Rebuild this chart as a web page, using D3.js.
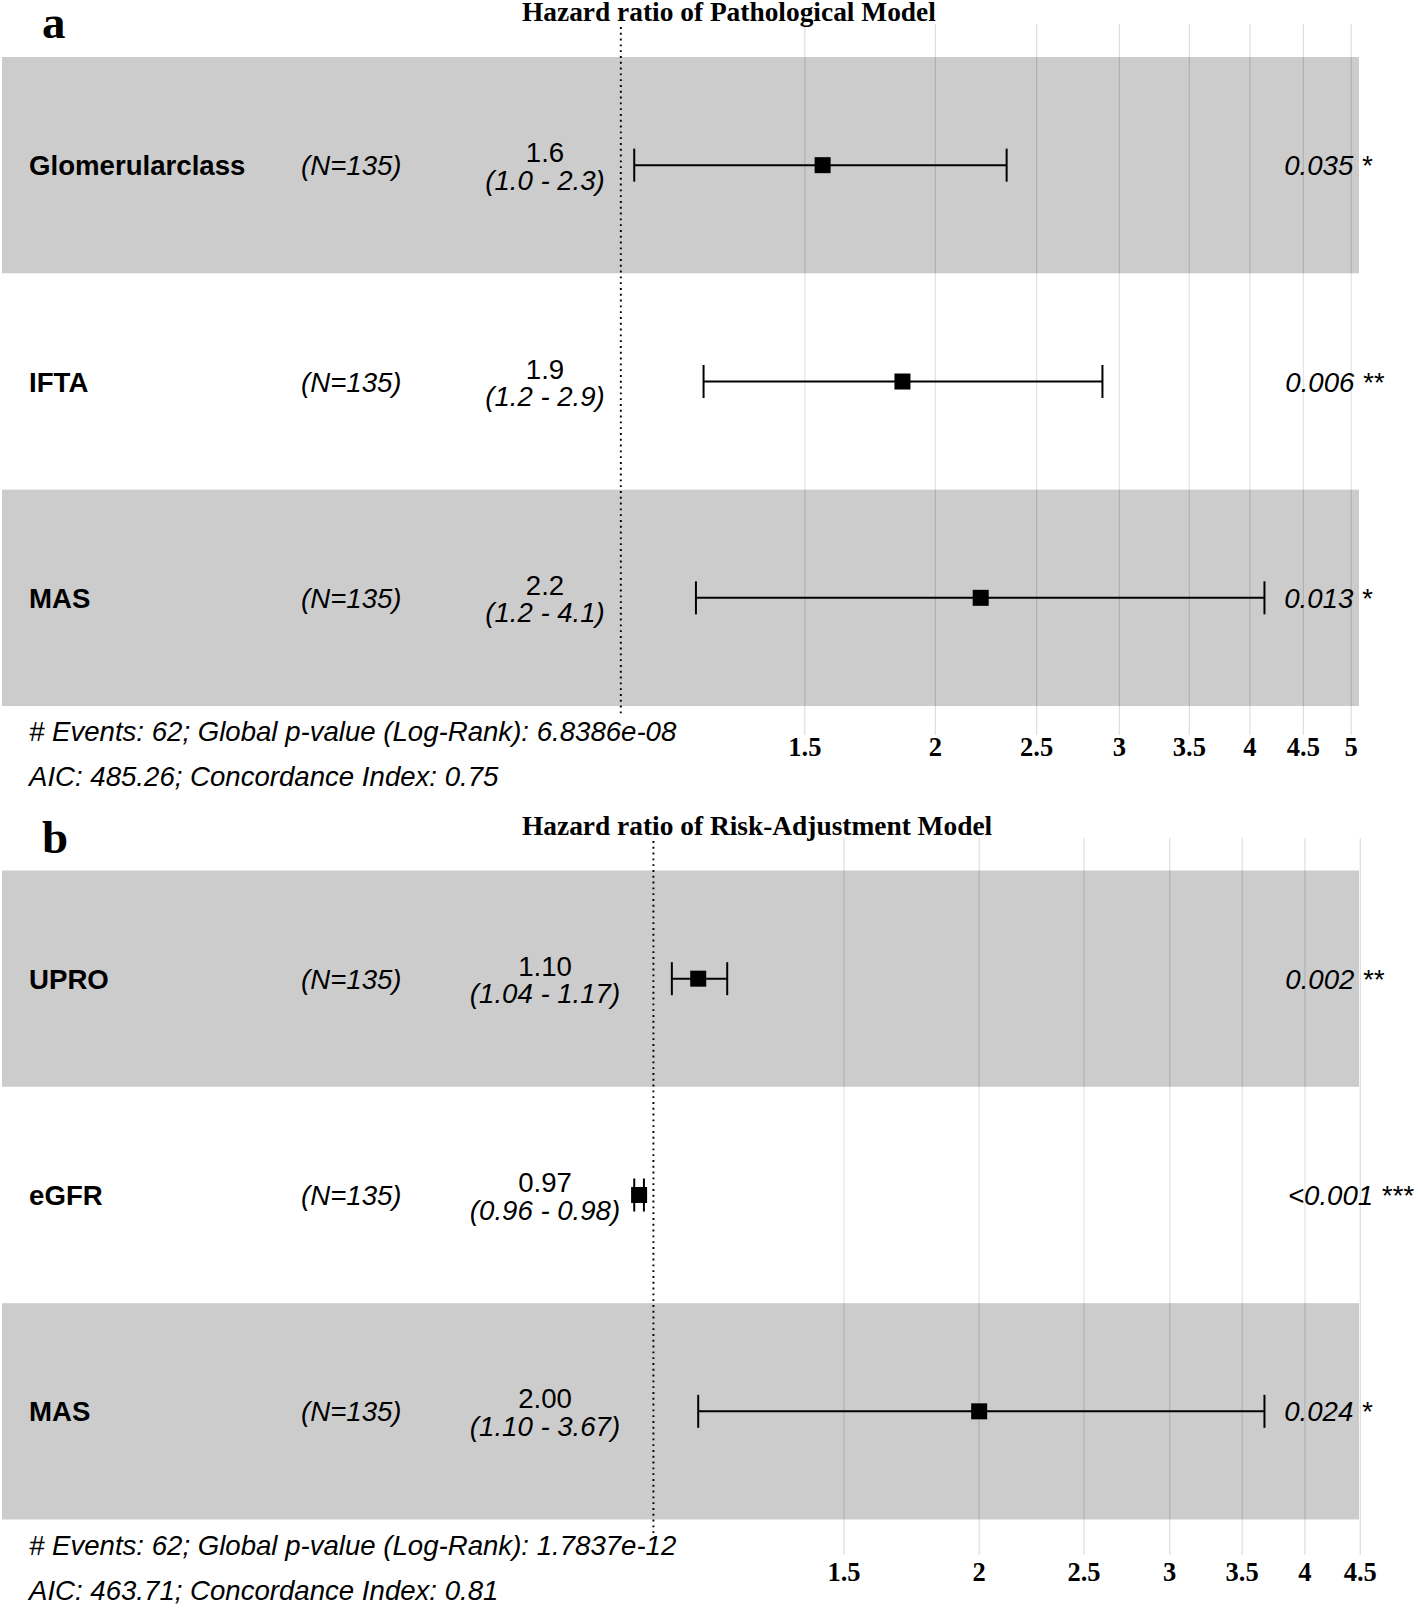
<!DOCTYPE html>
<html>
<head>
<meta charset="utf-8">
<script src="https://cdn.jsdelivr.net/npm/d3@7"></script>
<style>
body { margin: 0; background: #fff; }
</style>
</head>
<body>
<script>
var w = 1418;
var h = 1609;

// panel a: pathological model
var varsA = ["Glomerularclass", "IFTA", "MAS"];
var nA = [135, 135, 135];
var hrA = [1.56, 1.86, 2.21];
var loA = [1.03, 1.20, 1.18];
var hiA = [2.34, 2.89, 4.13];
var estA = ["1.6", "1.9", "2.2"];
var ciA = ["(1.0 - 2.3)", "(1.2 - 2.9)", "(1.2 - 4.1)"];
var pA = ["0.035 *", "0.006 **", "0.013 *"];
var ticksA = [1.5, 2, 2.5, 3, 3.5, 4, 4.5, 5];
var statsA = ["# Events: 62; Global p-value (Log-Rank): 6.8386e-08",
              "AIC: 485.26; Concordance Index: 0.75"];

// panel b: risk-adjustment model
var varsB = ["UPRO", "eGFR", "MAS"];
var nB = [135, 135, 135];
var hrB = [1.10, 0.97, 2.00];
var loB = [1.04, 0.96, 1.10];
var hiB = [1.17, 0.98, 3.67];
var estB = ["1.10", "0.97", "2.00"];
var ciB = ["(1.04 - 1.17)", "(0.96 - 0.98)", "(1.10 - 3.67)"];
var pB = ["0.002 **", "<0.001 ***", "0.024 *"];
var ticksB = [1.5, 2, 2.5, 3, 3.5, 4, 4.5];
var statsB = ["# Events: 62; Global p-value (Log-Rank): 1.7837e-12",
              "AIC: 463.71; Concordance Index: 0.81"];

var sans = "'Liberation Sans', Arial, sans-serif";
var serif = "'Liberation Serif', 'Times New Roman', serif";
var fs = 27.6;

var svg = d3.select("body")
            .append("svg")
            .attr("width", w)
            .attr("height", h);

function drawPanel(letter, title, vars, n, hr, lo, hi, est, ci, pv, ticks, stats, lay) {
    var g = svg.append("g");

    // plotting range like ggforest: extra room on the left for the text columns
    var lb = Math.log(d3.min(lo)), ub = Math.log(d3.max(hi));
    var dr = ub - lb;
    var left = 4, right = 1359;
    var x = d3.scaleLog()
              .domain([Math.exp(lb - dr), Math.exp(ub + 0.15 * dr)])
              .range([left, right]);
    var pw = right - left;
    var y = d3.scaleBand()
              .domain(vars)
              .range([lay.bandTop, lay.bandBottom]);
    var rows = vars.map(function(d, i) {
        return {v: d, n: n[i], hr: hr[i], lo: lo[i], hi: hi[i], est: est[i], ci: ci[i], p: pv[i]};
    });

    // vertical grid lines (run on down as the axis ticks)
    g.selectAll("line.grid")
     .data(ticks)
     .enter()
     .append("line")
     .attr("x1", function(d){ return x(d); })
     .attr("x2", function(d){ return x(d); })
     .attr("y1", lay.panelTop)
     .attr("y2", lay.tickEnd)
     .attr("stroke", "#dedede")
     .attr("stroke-width", 1.2);

    // alternating row bands, drawn over the grid with alpha
    g.selectAll("rect.band")
     .data(rows)
     .enter()
     .append("rect")
     .attr("x", 2)
     .attr("width", right - 2)
     .attr("y", function(d){ return y(d.v); })
     .attr("height", y.bandwidth())
     .attr("fill", function(d, i){
         return i % 2 == 0 ? "rgba(0,0,0,0.2)" : "rgba(255,255,255,0.2)";
     });

    // reference line at HR = 1
    g.append("line")
     .attr("x1", x(1)).attr("x2", x(1))
     .attr("y1", lay.panelTop + 3)
     .attr("y2", lay.dotEnd)
     .attr("stroke", "#000")
     .attr("stroke-width", 1.9)
     .attr("stroke-dasharray", "1.9,3.9");

    var cy = function(d){ return y(d.v) + y.bandwidth() / 2; };

    // confidence intervals
    g.selectAll("line.ci")
     .data(rows)
     .enter()
     .append("line")
     .attr("x1", function(d){ return x(d.lo); })
     .attr("x2", function(d){ return x(d.hi); })
     .attr("y1", cy)
     .attr("y2", cy)
     .attr("stroke", "#000")
     .attr("stroke-width", 2);

    ["lo", "hi"].forEach(function(k) {
        g.selectAll("line.cap" + k)
         .data(rows)
         .enter()
         .append("line")
         .attr("x1", function(d){ return x(d[k]); })
         .attr("x2", function(d){ return x(d[k]); })
         .attr("y1", function(d){ return cy(d) - 16.5; })
         .attr("y2", function(d){ return cy(d) + 16.5; })
         .attr("stroke", "#000")
         .attr("stroke-width", 2);
    });

    // point estimates
    g.selectAll("rect.pt")
     .data(rows)
     .enter()
     .append("rect")
     .attr("x", function(d){ return x(d.hr) - 8; })
     .attr("y", function(d){ return cy(d) - 8; })
     .attr("width", 16)
     .attr("height", 16)
     .attr("fill", "#000");

    // text columns
    g.selectAll("text.var")
     .data(rows)
     .enter()
     .append("text")
     .text(function(d){ return d.v; })
     .attr("x", left + 0.02 * pw - 2)
     .attr("y", function(d){ return cy(d) + 10; })
     .attr("font-family", sans)
     .attr("font-weight", "bold")
     .attr("font-size", fs + "px");

    g.selectAll("text.n")
     .data(rows)
     .enter()
     .append("text")
     .text(function(d){ return "(N=" + d.n + ")"; })
     .attr("x", left + 0.22 * pw - 1)
     .attr("y", function(d){ return cy(d) + 10; })
     .attr("font-family", sans)
     .attr("font-style", "italic")
     .attr("font-size", fs + "px");

    g.selectAll("text.est")
     .data(rows)
     .enter()
     .append("text")
     .text(function(d){ return d.est; })
     .attr("x", left + 0.4 * pw - 1)
     .attr("y", function(d){ return cy(d) - 3; })
     .attr("font-family", sans)
     .attr("font-size", fs + "px")
     .attr("text-anchor", "middle");

    g.selectAll("text.ci")
     .data(rows)
     .enter()
     .append("text")
     .text(function(d){ return d.ci; })
     .attr("x", left + 0.4 * pw - 1)
     .attr("y", function(d){ return cy(d) + 24.5; })
     .attr("font-family", sans)
     .attr("font-style", "italic")
     .attr("font-size", fs + "px")
     .attr("text-anchor", "middle");

    // p-values, hjust = -0.1 like in ggplot
    var px = x(d3.max(hi)) + 11;
    g.selectAll("text.p")
     .data(rows)
     .enter()
     .append("text")
     .text(function(d){ return d.p; })
     .attr("x", px)
     .attr("y", function(d){ return cy(d) + 10; })
     .attr("font-family", sans)
     .attr("font-style", "italic")
     .attr("font-size", fs + "px")
     .each(function() {
         d3.select(this).attr("x", px + 0.1 * this.getComputedTextLength());
     });

    // axis labels
    g.selectAll("text.tick")
     .data(ticks)
     .enter()
     .append("text")
     .text(function(d){ return d; })
     .attr("x", function(d){ return x(d); })
     .attr("y", lay.tickLabelY)
     .attr("font-family", serif)
     .attr("font-weight", "bold")
     .attr("font-size", "26.5px")
     .attr("text-anchor", "middle");

    g.selectAll("text.stat")
     .data(stats)
     .enter()
     .append("text")
     .text(function(d){ return d; })
     .attr("x", 29)
     .attr("y", function(d, i){ return lay.statsY + i * 45; })
     .attr("font-family", sans)
     .attr("font-style", "italic")
     .attr("font-size", fs + "px");

    g.append("text")
     .text(title)
     .attr("x", 522)
     .attr("y", lay.titleY)
     .attr("font-family", serif)
     .attr("font-weight", "bold")
     .attr("font-size", "27.4px");

    g.append("text")
     .text(letter)
     .attr("x", 42)
     .attr("y", lay.letterY)
     .attr("font-family", serif)
     .attr("font-weight", "bold")
     .attr("font-size", "47px");
}

drawPanel("a", "Hazard ratio of Pathological Model",
          varsA, nA, hrA, loA, hiA, estA, ciA, pA, ticksA, statsA,
          {titleY: 21, letterY: 38, panelTop: 24, bandTop: 57, bandBottom: 706,
           dotEnd: 715, tickEnd: 735, tickLabelY: 756, statsY: 741});

drawPanel("b", "Hazard ratio of Risk-Adjustment Model",
          varsB, nB, hrB, loB, hiB, estB, ciB, pB, ticksB, statsB,
          {titleY: 835, letterY: 853, panelTop: 838, bandTop: 870.5, bandBottom: 1519.5,
           dotEnd: 1535, tickEnd: 1555, tickLabelY: 1581, statsY: 1555});
</script>
</body>
</html>
